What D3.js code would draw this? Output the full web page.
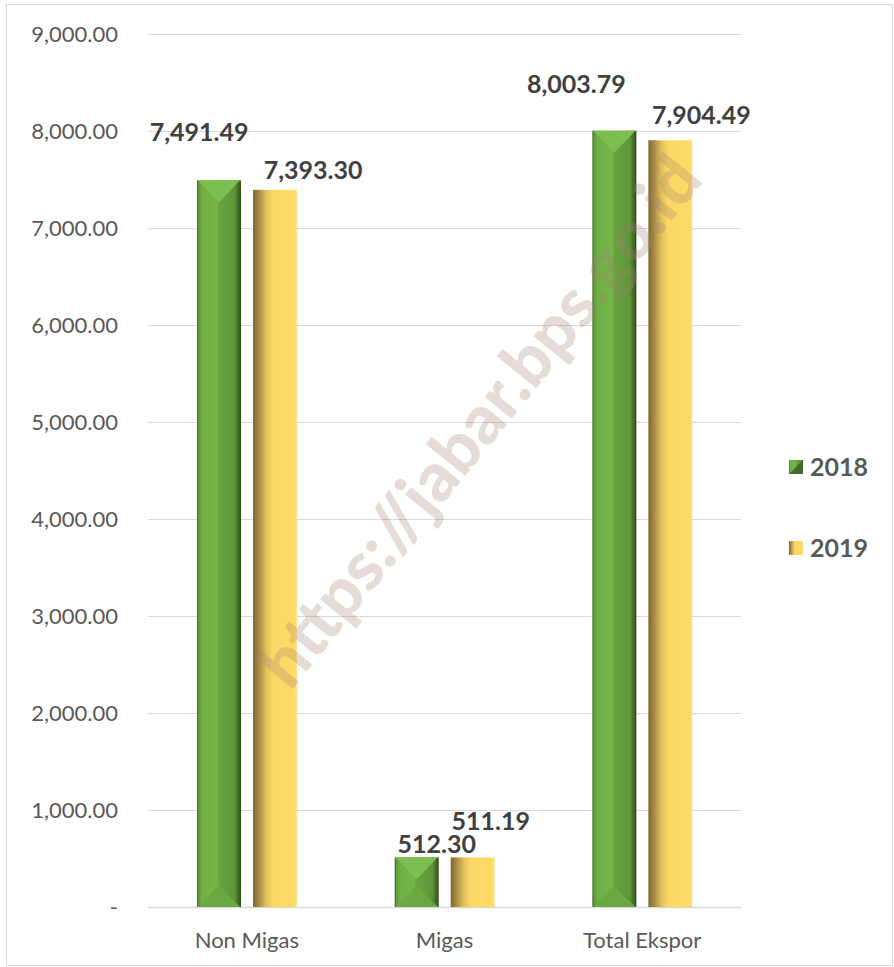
<!DOCTYPE html>
<html>
<head>
<meta charset="utf-8">
<script src="https://cdn.jsdelivr.net/npm/d3@7"></script>
<style>
  body { margin: 0; background: #fff; }
  text { font-family: Lato, "Open Sans", sans-serif; }
</style>
</head>
<body>
<div id="chart"></div>
<script>
const categories = ["Non Migas", "Migas", "Total Ekspor"];
const years = ["2018", "2019"];
const values2018 = [7491.49, 512.30, 8003.79];
const values2019 = [7393.30, 511.19, 7904.49];
const yTicks = [0, 1000, 2000, 3000, 4000, 5000, 6000, 7000, 8000, 9000];

// label nudges (moved by hand in the original)
const labelShift = {
  "2018": [[-20, -39], [20, -4], [-38, -38]],
  "2019": [[38, -11], [18, -27], [31, -16]]
};

const width = 894;
const height = 967;
const marginTop = 34;
const marginLeft = 148;
const plotRight = 741;
const plotBottom = 907;

const data = [];
categories.forEach((c, i) => {
  data.push({ cat: c, year: "2018", value: values2018[i], i: i });
  data.push({ cat: c, year: "2019", value: values2019[i], i: i });
});

const x0 = d3.scaleBand()
  .domain(categories)
  .range([marginLeft, plotRight]);

const x1 = d3.scaleBand()
  .domain(years)
  .range([x0.bandwidth() * 0.248, x0.bandwidth() * 0.754])
  .paddingInner(0.214);

const y = d3.scaleLinear()
  .domain([0, 9000])
  .range([plotBottom, marginTop]);

const svg = d3.select("#chart")
  .append("svg")
  .attr("width", width)
  .attr("height", height)
  .attr("viewBox", [0, 0, width, height]);

// frame
svg.append("rect")
  .attr("x", 6.5).attr("y", 4.5)
  .attr("width", width - 8).attr("height", height - 6)
  .attr("fill", "#fff")
  .attr("stroke", "#d9d9d9");

const defs = svg.append("defs");

const gGreen = defs.append("linearGradient").attr("id", "green").attr("x1", 0).attr("x2", 1);
[[0, "#3f6a27"], [0.04, "#5f9a3a"], [0.12, "#6fb045"], [0.45, "#74b548"],
 [0.5, "#67a33f"], [0.85, "#5e9539"], [0.94, "#3f6b26"], [1, "#2f4f1c"]]
  .forEach(s => gGreen.append("stop").attr("offset", s[0]).attr("stop-color", s[1]));

const gYellow = defs.append("linearGradient").attr("id", "yellow").attr("x1", 0).attr("x2", 1);
[[0, "#7e682f"], [0.1, "#9c8240"], [0.3, "#e2bf5b"], [0.45, "#fdd765"],
 [0.9, "#ffd966"], [0.97, "#ffdc70"], [1, "#ffe89a"]]
  .forEach(s => gYellow.append("stop").attr("offset", s[0]).attr("stop-color", s[1]));

// gridlines
svg.append("g")
  .selectAll("line")
  .data(yTicks)
  .join("line")
  .attr("x1", marginLeft)
  .attr("x2", plotRight)
  .attr("y1", d => Math.round(y(d)) + 0.5)
  .attr("y2", d => Math.round(y(d)) + 0.5)
  .attr("stroke", "#d9d9d9")
  .attr("stroke-width", d => d === 0 ? 1.5 : 1);

// y tick labels
svg.append("g")
  .selectAll("text")
  .data(yTicks)
  .join("text")
  .attr("x", 118)
  .attr("y", d => y(d) + 8)
  .attr("text-anchor", "end")
  .attr("font-size", 22)
  .attr("fill", "#595959")
  .text(d => d === 0 ? "-" : d3.format(",.2f")(d));

// x labels
svg.append("g")
  .selectAll("text")
  .data(categories)
  .join("text")
  .attr("x", d => x0(d) + x0.bandwidth() / 2)
  .attr("y", 948)
  .attr("text-anchor", "middle")
  .attr("font-size", 22)
  .attr("fill", "#595959")
  .text(d => d);

// bars
const bars = svg.append("g")
  .selectAll("g")
  .data(data)
  .join("g")
  .attr("transform", d => `translate(${x0(d.cat) + x1(d.year)},0)`);

bars.append("rect")
  .attr("x", 0)
  .attr("y", d => y(d.value))
  .attr("width", x1.bandwidth())
  .attr("height", d => y(0) - y(d.value))
  .attr("fill", d => d.year === "2018" ? "url(#green)" : "url(#yellow)");

// bevel facets on the green bars
const w = x1.bandwidth();
const green = bars.filter(d => d.year === "2018");
green.append("path")
  .attr("fill", "#7cbf50")
  .attr("d", d => {
    const t = y(d.value);
    return `M1,${t}L${w - 1},${t}L${w / 2},${t + w / 2}Z`;
  });
green.append("path")
  .attr("fill", "#6aa841")
  .attr("d", d => {
    const b = y(0);
    return `M1,${b}L${w / 2},${b - w / 2}L${w - 1},${b}Z`;
  });
green.append("path")
  .attr("fill", "#588c35")
  .attr("d", d => {
    const b = y(0);
    return `M${w / 2},${b - w / 2}L${w - 2},${b - 2}L${w - 1},${b}Z`;
  });

// data labels
svg.append("g")
  .selectAll("text")
  .data(data)
  .join("text")
  .attr("x", d => x0(d.cat) + x1(d.year) + w / 2 + labelShift[d.year][d.i][0])
  .attr("y", d => y(d.value) + labelShift[d.year][d.i][1])
  .attr("text-anchor", "middle")
  .attr("font-size", 25)
  .attr("font-weight", "bold")
  .attr("fill", "#404040")
  .text(d => d3.format(",.2f")(d.value));

// watermark
svg.append("text")
  .attr("transform", "translate(484,425) rotate(-51)")
  .attr("text-anchor", "middle")
  .attr("dominant-baseline", "middle")
  .attr("font-size", 68)
  .attr("font-weight", 900)
  .attr("fill", "#a08070")
  .attr("fill-opacity", 0.28)
  .text("https://jabar.bps.go.id");

// legend
const legend = svg.append("g")
  .selectAll("g")
  .data(years)
  .join("g")
  .attr("transform", (d, i) => `translate(789,${460 + i * 81})`);

legend.append("rect")
  .attr("width", 14)
  .attr("height", 14)
  .attr("fill", d => d === "2018" ? "url(#green)" : "url(#yellow)");

legend.filter(d => d === "2018").append("path")
  .attr("d", "M0,14L14,0L14,14Z")
  .attr("fill", "#3f6b26");

legend.append("text")
  .attr("x", 21)
  .attr("y", 16)
  .attr("font-size", 25)
  .attr("font-weight", "bold")
  .attr("fill", "#595959")
  .text(d => d);
</script>
</body>
</html>
